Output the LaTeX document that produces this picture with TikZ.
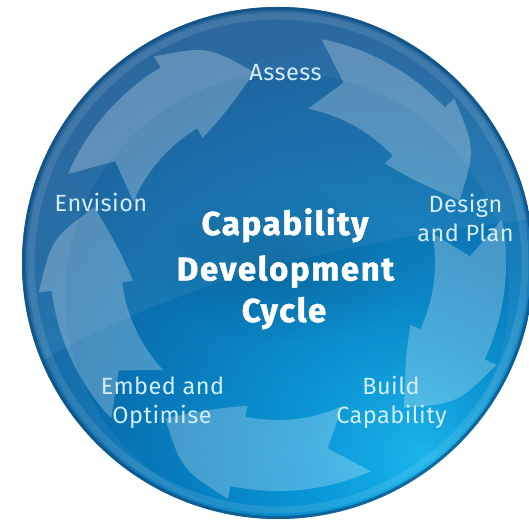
\documentclass[tikz,border=0pt]{standalone}
\usepackage{fontspec}
\setmainfont{Fira Sans}
\newfontfamily\labfont[LetterSpace=2]{Fira Sans}
\newfontfamily\ttlfont[LetterSpace=5, BoldFeatures={FakeBold=1.5}]{Fira Sans}
\usetikzlibrary{fadings}
\definecolor{sA}{HTML}{1ABAF0}
\definecolor{sB}{HTML}{099ADA}
\definecolor{sC}{HTML}{067CBD}
\definecolor{sD}{HTML}{0A66A5}
\definecolor{sE}{HTML}{135A93}
\definecolor{sF}{HTML}{1F5088}
\definecolor{navytop}{HTML}{22427C}
\definecolor{rimdark}{HTML}{0B4C7E}
\definecolor{labelc}{HTML}{D2ECF8}
\definecolor{shadowc}{HTML}{04223E}
\pgfdeclareradialshading{sphereshade}{\pgfpoint{14bp}{-19bp}}{color(0bp)=(sA); color(10bp)=(sB); color(22bp)=(sC); color(32bp)=(sD); color(42bp)=(sE); color(52bp)=(sF); color(72bp)=(sF)}
\tikzfading[name=topfade, top color=transparent!0, bottom color=transparent!100]
\tikzfading[name=glowfade, inner color=transparent!0, outer color=transparent!100]
\tikzset{
  cyclearrow/.style={fill=white, fill opacity=0.25},
  lab/.style={text=labelc, font=\labfont\fontsize{23.5}{28}\selectfont, anchor=base, inner sep=0pt},
  ttl/.style={text=white, font=\ttlfont\fontsize{33}{40}\selectfont\bfseries, anchor=base, inner sep=0pt},
  glow/.style={fill=shadowc, fill opacity=0.2, path fading=glowfade}
}
\newcommand\cycarrow[1]{%
  \pgfmathsetmacro\cyT{#1+36}%
  \pgfmathsetmacro\cyN{#1+27}%
  \pgfmathsetmacro\cyP{#1-24}%
  \pgfmathsetmacro\cyO{#1-13}%
  \pgfmathsetmacro\cyI{#1-11}%
  \fill[cyclearrow] (\cyT:228) arc[start angle=\cyT, end angle=#1, radius=228]
    -- (#1:241) .. controls (\cyO:228) .. (\cyP:192)
    .. controls (\cyI:158) .. (#1:146) -- (#1:157)
    arc[start angle=#1, end angle=\cyT, radius=157] -- (\cyN:192) -- cycle;}
\begin{document}
\begin{tikzpicture}[x=1pt,y=1pt]
\useasboundingbox (0,0) rectangle (529,524);
\fill[white] (0,0) rectangle (529,524);
\begin{scope}
  \clip (0,0) rectangle (529,524);
  \coordinate (c) at (278,261);
  \shade[shading=sphereshade] (c) circle[radius=256];
  \fill[navytop, path fading=topfade, fill opacity=0.35] (c) circle[radius=256];
  \begin{scope}
    \clip (c) circle[radius=256];
    \fill[white, fill opacity=0.06] (20,150) .. controls (140,225) and (300,280) .. (545,306) -- (545,524) -- (0,524) -- (0,150) -- cycle;
    \fill[white, fill opacity=0.05, even odd rule] (c) circle[radius=256] (287,229) circle[radius=222];
  \end{scope}
  \begin{scope}[shift={(278,261)}]
    \cycarrow{121}
    \cycarrow{43}
    \cycarrow{-25}
    \cycarrow{-102}
    \cycarrow{187}
  \end{scope}
  \draw[white, opacity=0.10, line width=7pt] (c) circle[radius=247];
  \draw[rimdark, opacity=0.7, line width=3pt] (c) circle[radius=254.5];
  \fill[glow] (285,258) ellipse[x radius=140, y radius=75];
\end{scope}
\node[lab] (assess) at (285.5,443.5) {Assess};
\node[lab] (envision) at (101,312) {Envision};
\node[lab] (design) at (465.5,311) {Design};
\node[lab] (andplan) at (465.5,282) {and Plan};
\node[lab] (build) at (391,129) {Build};
\node[lab] (buildcap) at (391.5,100) {Capability};
\node[lab] (embed) at (162.5,129) {Embed and};
\node[lab] (optimise) at (162,100) {Optimise};
\node[ttl] (title1) at (285,289) {Capability};
\node[ttl] (title2) at (285.5,243.5) {Development};
\node[ttl] (title3) at (284,202) {Cycle};
\end{tikzpicture}
\end{document}
